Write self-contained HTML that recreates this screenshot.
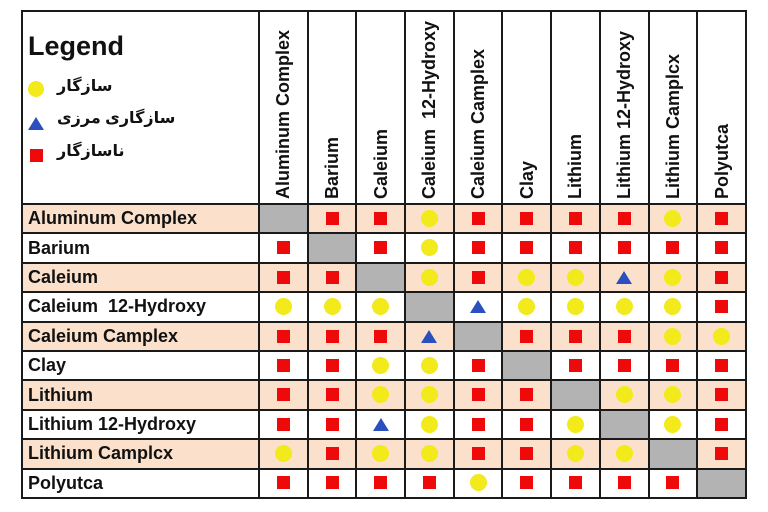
<!DOCTYPE html>
<html><head><meta charset="utf-8"><style>
body{margin:0;width:768px;height:512px;background:#fff;overflow:hidden;font-family:"Liberation Sans",Arial,sans-serif;}
table{position:absolute;left:21px;top:10px;width:726px;border-collapse:collapse;table-layout:fixed;}
td{border:2px solid #1a1a1a;padding:0;text-align:center;vertical-align:middle;}
tr.h td{height:191px;}
tr.r td{height:27.4px;}
tr.p td{background:#fbe1cb;}
td.g, tr.p td.g{background:#b3b3b3;}
td.n{text-align:left;padding-left:5px;font-weight:bold;font-size:18px;color:#111;white-space:nowrap;}
td.v{position:relative;}
td.v span{position:absolute;left:50%;bottom:-16px;transform-origin:0 0;transform:rotate(-90deg) translate(0,-50%);white-space:nowrap;font-size:18px;font-weight:bold;color:#111;display:block;line-height:20px;}
i{display:inline-block;vertical-align:middle;}
i.s{width:13px;height:13px;background:#ee0a0a;}
i.c{width:17px;height:17px;border-radius:50%;background:#f2ea1a;}
i.t{width:0;height:0;border-left:8px solid transparent;border-right:8px solid transparent;border-bottom:13px solid #2b4fbf;}
.leg{position:absolute;left:28px;}
.fa{font-size:16px;font-weight:bold;font-family:'Liberation Sans','DejaVu Sans',sans-serif;color:#111;}
</style></head><body>
<table>
<colgroup><col style="width:237px"><col><col><col><col><col><col><col><col><col><col></colgroup>
<tr class="h"><td></td>
<td class="v"><span>Aluminum Complex</span></td>
<td class="v"><span>Barium</span></td>
<td class="v"><span>Caleium</span></td>
<td class="v"><span>Caleium&nbsp; 12-Hydroxy</span></td>
<td class="v"><span>Caleium Camplex</span></td>
<td class="v"><span>Clay</span></td>
<td class="v"><span>Lithium</span></td>
<td class="v"><span>Lithium 12-Hydroxy</span></td>
<td class="v"><span>Lithium Camplcx</span></td>
<td class="v"><span>Polyutca</span></td></tr>
<tr class="r p"><td class="n">Aluminum Complex</td><td class="g"></td><td><i class="s"></i></td><td><i class="s"></i></td><td><i class="c"></i></td><td><i class="s"></i></td><td><i class="s"></i></td><td><i class="s"></i></td><td><i class="s"></i></td><td><i class="c"></i></td><td><i class="s"></i></td></tr>
<tr class="r"><td class="n">Barium</td><td><i class="s"></i></td><td class="g"></td><td><i class="s"></i></td><td><i class="c"></i></td><td><i class="s"></i></td><td><i class="s"></i></td><td><i class="s"></i></td><td><i class="s"></i></td><td><i class="s"></i></td><td><i class="s"></i></td></tr>
<tr class="r p"><td class="n">Caleium</td><td><i class="s"></i></td><td><i class="s"></i></td><td class="g"></td><td><i class="c"></i></td><td><i class="s"></i></td><td><i class="c"></i></td><td><i class="c"></i></td><td><i class="t"></i></td><td><i class="c"></i></td><td><i class="s"></i></td></tr>
<tr class="r"><td class="n">Caleium&nbsp; 12-Hydroxy</td><td><i class="c"></i></td><td><i class="c"></i></td><td><i class="c"></i></td><td class="g"></td><td><i class="t"></i></td><td><i class="c"></i></td><td><i class="c"></i></td><td><i class="c"></i></td><td><i class="c"></i></td><td><i class="s"></i></td></tr>
<tr class="r p"><td class="n">Caleium Camplex</td><td><i class="s"></i></td><td><i class="s"></i></td><td><i class="s"></i></td><td><i class="t"></i></td><td class="g"></td><td><i class="s"></i></td><td><i class="s"></i></td><td><i class="s"></i></td><td><i class="c"></i></td><td><i class="c"></i></td></tr>
<tr class="r"><td class="n">Clay</td><td><i class="s"></i></td><td><i class="s"></i></td><td><i class="c"></i></td><td><i class="c"></i></td><td><i class="s"></i></td><td class="g"></td><td><i class="s"></i></td><td><i class="s"></i></td><td><i class="s"></i></td><td><i class="s"></i></td></tr>
<tr class="r p"><td class="n">Lithium</td><td><i class="s"></i></td><td><i class="s"></i></td><td><i class="c"></i></td><td><i class="c"></i></td><td><i class="s"></i></td><td><i class="s"></i></td><td class="g"></td><td><i class="c"></i></td><td><i class="c"></i></td><td><i class="s"></i></td></tr>
<tr class="r"><td class="n">Lithium 12-Hydroxy</td><td><i class="s"></i></td><td><i class="s"></i></td><td><i class="t"></i></td><td><i class="c"></i></td><td><i class="s"></i></td><td><i class="s"></i></td><td><i class="c"></i></td><td class="g"></td><td><i class="c"></i></td><td><i class="s"></i></td></tr>
<tr class="r p"><td class="n">Lithium Camplcx</td><td><i class="c"></i></td><td><i class="s"></i></td><td><i class="c"></i></td><td><i class="c"></i></td><td><i class="s"></i></td><td><i class="s"></i></td><td><i class="c"></i></td><td><i class="c"></i></td><td class="g"></td><td><i class="s"></i></td></tr>
<tr class="r"><td class="n">Polyutca</td><td><i class="s"></i></td><td><i class="s"></i></td><td><i class="s"></i></td><td><i class="s"></i></td><td><i class="c"></i></td><td><i class="s"></i></td><td><i class="s"></i></td><td><i class="s"></i></td><td><i class="s"></i></td><td class="g"></td></tr>
</table>
<div class="leg" style="top:31px;font-size:27px;font-weight:bold;color:#111;">Legend</div>
<div class="leg" style="top:80px;"><i class="c" style="width:16px;height:16px"></i></div>
<div class="leg fa" style="top:76px;left:57px;" dir="rtl">سازگار</div>
<div class="leg" style="top:115px;"><i class="t"></i></div>
<div class="leg fa" style="top:108px;left:57px;" dir="rtl">سازگاری مرزی</div>
<div class="leg" style="top:147px;left:30px;"><i class="s"></i></div>
<div class="leg fa" style="top:141px;left:57px;" dir="rtl">ناسازگار</div>
</body></html>
